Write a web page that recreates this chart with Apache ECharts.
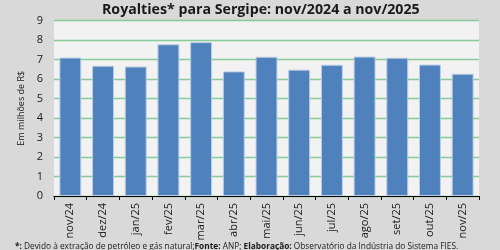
<!DOCTYPE html>
<html>
<head>
<meta charset="utf-8">
<script src="https://cdn.jsdelivr.net/npm/echarts@6/dist/echarts.min.js"></script>
<style>
html,body{margin:0;padding:0;background:#d9d9d9;}
#chart{width:500px;height:250px;}
</style>
</head>
<body>
<div id="chart"></div>
<script>
const categories = ['nov/24','dez/24','jan/25','fev/25','mar/25','abr/25','mai/25','jun/25','jul/25','ago/25','set/25','out/25','nov/25'];
const royalties = [7.10, 6.68, 6.64, 7.78, 7.89, 6.39, 7.14, 6.48, 6.73, 7.15, 7.09, 6.74, 6.27];
const yTicks = {min: 0, max: 9, interval: 1};
const titleText = 'Royalties* para Sergipe: nov/2024 a nov/2025';
const yAxisTitle = 'Em milhões de R$';

const chart = echarts.init(document.getElementById('chart'), null, {renderer: 'canvas'});
chart.setOption({
  backgroundColor: '#d9d9d9',
  animation: false,
  textStyle: {fontFamily: 'Open Sans'},
  title: [{
    text: titleText,
    left: 97,
    top: -2,
    textStyle: {fontFamily: 'Open Sans', fontSize: 14.2, fontWeight: 'bold', color: '#1a1a1a'}
  }, {
    text: '{b|*:} Devido à extração de petróleo e gás natural;{b|Fonte:} ANP; {b|Elaboração:} Observatório da Indústria do Sistema FIES.',
    left: 10,
    top: 238,
    textStyle: {
      fontFamily: 'Open Sans', fontSize: 8.3, color: '#1a1a1a', fontWeight: 'normal',
      rich: {b: {fontFamily: 'Open Sans', fontSize: 8.3, fontWeight: 'bold', color: '#1a1a1a'}}
    }
  }],
  grid: {left: 54, right: 21, top: 20.5, bottom: 54, show: true, backgroundColor: '#f2f2f2', borderWidth: 0},
  xAxis: {
    type: 'category',
    data: categories,
    axisLine: {lineStyle: {color: '#000', width: 1}},
    axisTick: {show: true, interval: 0, length: 4, lineStyle: {color: '#000'}},
    axisLabel: {rotate: 90, interval: 0, fontSize: 11, color: '#1a1a1a', margin: 7, fontFamily: 'Open Sans'}
  },
  yAxis: {
    type: 'value',
    min: yTicks.min, max: yTicks.max, interval: yTicks.interval,
    name: yAxisTitle,
    nameLocation: 'middle',
    nameGap: 26,
    nameTextStyle: {fontSize: 9, color: '#1a1a1a', fontFamily: 'Open Sans'},
    axisLine: {show: false},
    axisTick: {show: false},
    axisLabel: {fontSize: 11, color: '#1a1a1a', margin: 11, fontFamily: 'Open Sans'},
    splitLine: {lineStyle: {color: '#86cc98', width: 1.3}}
  },
  series: [{
    type: 'bar',
    data: royalties,
    barCategoryGap: '33%',
    itemStyle: {color: '#4f81bd', borderColor: '#b9cde5', borderWidth: 1}
  }]
});
</script>
</body>
</html>
